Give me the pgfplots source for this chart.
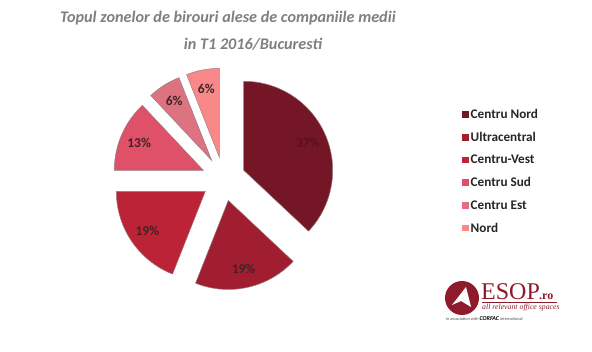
\documentclass[border=0pt]{standalone}
\usepackage{pgfplots}
\pgfplotsset{compat=1.18}
\usepackage{fontspec}
\setmainfont{Carlito}
\newfontfamily\esopserif{Liberation Serif}
\definecolor{cNord}{HTML}{741626}
\definecolor{cUltra}{HTML}{A01E30}
\definecolor{cVest}{HTML}{BC2336}
\definecolor{cSud}{HTML}{DF5069}
\definecolor{cEst}{HTML}{DD7280}
\definecolor{cN}{HTML}{FA8888}
\definecolor{lblDark}{HTML}{3E2424}
\definecolor{lblRed}{HTML}{561020}
\definecolor{legText}{HTML}{262626}
\definecolor{titleGray}{HTML}{7F7F7F}
\definecolor{esopRed}{HTML}{8E1B2C}
\definecolor{sliceEdge}{HTML}{9A8080}
\tikzset{pielabel/.style={font=\bfseries\fontsize{13.5}{15}\selectfont}}

% pie geometry (axis units = px)
\def\cx{223.5}
\def\cy{172}
\def\R{89}
\def\ex{22}
\def\lr{70}

\newcommand\slice[5]{%
  \pgfmathsetmacro\aS{90-3.6*#1}%
  \pgfmathsetmacro\aE{90-3.6*(#1+#2)}%
  \pgfmathsetmacro\aM{(\aS+\aE)/2}%
  \pgfmathsetmacro\vx{\cx+\ex*cos(\aM)}%
  \pgfmathsetmacro\vy{\cy+\ex*sin(\aM)}%
  \pgfmathsetmacro\lx{\vx+\lr*cos(\aM)}%
  \pgfmathsetmacro\ly{\vy+\lr*sin(\aM)}%
  \edef\temp{%
    \noexpand\addplot[fill=#3, draw=sliceEdge, line width=0.5pt, domain=\aE:\aS, samples=80, variable=\noexpand\t]
      ({\vx+\R*cos(\noexpand\t)},{\vy+\R*sin(\noexpand\t)}) -- (axis cs:\vx,\vy) -- cycle;
    \noexpand\addlegendentry{#5}
    \noexpand\node[pielabel, text=#4] at (axis cs:\lx,\ly) {#2\noexpand\%};
  }%
  \temp
}

\begin{document}
\begin{tikzpicture}
\useasboundingbox (0,0) rectangle (592pt,351pt);
\begin{axis}[
  at={(0,0)}, anchor=south west,
  width=592pt, height=351pt, scale only axis,
  xmin=0, xmax=592, ymin=0, ymax=351,
  hide axis, clip=false,
  legend cell align=left,
  legend image code/.code={\path[#1, draw=none] (0pt,-3pt) rectangle (6.5pt,3.5pt);},
  legend style={at={(axis cs:462,244)}, anchor=north west, draw=none, fill=none,
    font=\bfseries\fontsize{13.2}{15}\selectfont, text=legText, row sep=8.2pt,
    inner sep=0pt, /tikz/every even column/.append style={column sep=2pt}},
]
\slice{0}{37}{cNord}{lblRed}{Centru Nord}
\slice{37}{19}{cUltra}{lblDark}{Ultracentral}
\slice{56}{19}{cVest}{lblDark}{Centru-Vest}
\slice{75}{13}{cSud}{lblDark}{Centru Sud}
\slice{88}{6}{cEst}{lblDark}{Centru Est}
\slice{94}{6}{cN}{lblDark}{Nord}
\end{axis}
\begin{scope}[x=1pt,y=1pt]
\node[text=titleGray, font=\bfseries\itshape\fontsize{16.2}{18}\selectfont] at (228,333) {Topul zonelor de birouri alese de companiile medii};
\node[text=titleGray, font=\bfseries\itshape\fontsize{16.2}{18}\selectfont] at (253,306.5) {in T1 2016/Bucuresti};
% logo
\fill[esopRed] (462,53) circle (17);
\fill[white] (466,64) -- (452,46) -- (461,50) -- (471,44) -- cycle;
\node[anchor=south west, inner sep=0pt, text=esopRed, font=\esopserif\fontsize{24}{24}\selectfont] at (481,51) {ESOP};
\node[anchor=south west, inner sep=0pt, text=esopRed, font=\esopserif\bfseries\fontsize{12}{12}\selectfont] at (539,51) {.ro};
\draw[esopRed, line width=0.8pt] (482,48.5) -- (557,48.5);
\node[anchor=west, inner sep=0pt, text=esopRed, font=\esopserif\itshape\fontsize{7.8}{8}\selectfont] at (482,43) {all relevant office spaces};
\node[anchor=west, inner sep=0pt, text=black!70, font=\fontsize{4.3}{5}\selectfont] at (446,32) {in association with \textcolor{black}{\bfseries\itshape\fontsize{6}{6}\selectfont CORFAC} International};
\end{scope}
\end{tikzpicture}
\end{document}
